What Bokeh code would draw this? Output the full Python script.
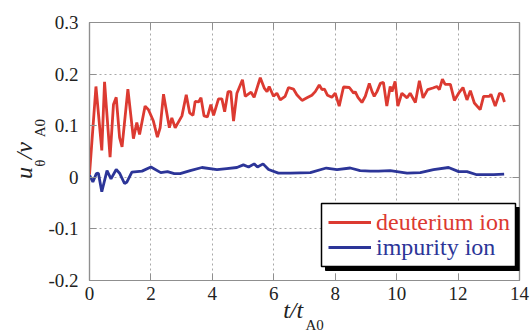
from bokeh.plotting import figure
from bokeh.models import FixedTicker, Legend, LegendItem, BoxAnnotation, LinearAxis
from bokeh.embed import file_html
from bokeh.resources import INLINE

# ---- data ----
deut_t = [0.0, 0.21, 0.40, 0.49, 0.67, 0.78, 0.87, 0.98, 1.06, 1.25, 1.43, 1.54, 1.63, 1.81,
          1.92, 2.08, 2.21, 2.30, 2.41, 2.60, 2.68, 2.79, 3.01, 3.15, 3.26, 3.37, 3.44, 3.55,
          3.63, 3.73, 3.84, 3.95, 4.04, 4.20, 4.31, 4.40, 4.51, 4.60, 4.69, 4.80, 4.98, 5.07,
          5.26, 5.36, 5.56, 5.69, 5.78, 5.85, 5.99, 6.10, 6.21, 6.37, 6.48, 6.64, 6.75, 6.92,
          7.08, 7.24, 7.35, 7.48, 7.57, 7.65, 7.75, 7.89, 8.00, 8.13, 8.27, 8.46, 8.60, 8.65,
          8.74, 8.87, 8.98, 9.11, 9.20, 9.27, 9.36, 9.47, 9.57, 9.68, 9.79, 9.85, 9.95, 10.04,
          10.17, 10.34, 10.44, 10.61, 10.74, 10.86, 11.01, 11.18, 11.31, 11.39, 11.49, 11.58,
          11.75, 11.88, 12.02, 12.16, 12.29, 12.40, 12.53, 12.72, 12.83, 13.02, 13.07, 13.21,
          13.35, 13.43, 13.51]
deut_u = [0.005, 0.176, 0.052, 0.185, 0.039, 0.141, 0.155, 0.077, 0.059, 0.171, 0.075, 0.106,
          0.083, 0.138, 0.131, 0.109, 0.078, 0.096, 0.161, 0.096, 0.115, 0.096, 0.119, 0.160,
          0.125, 0.120, 0.147, 0.146, 0.154, 0.119, 0.117, 0.141, 0.120, 0.152, 0.152, 0.127,
          0.166, 0.166, 0.109, 0.163, 0.189, 0.157, 0.165, 0.155, 0.193, 0.173, 0.166, 0.176,
          0.157, 0.163, 0.150, 0.157, 0.174, 0.171, 0.160, 0.149, 0.154, 0.159, 0.166, 0.179,
          0.170, 0.171, 0.159, 0.155, 0.163, 0.138, 0.175, 0.174, 0.163, 0.166, 0.155, 0.145,
          0.157, 0.182, 0.166, 0.157, 0.166, 0.182, 0.184, 0.138, 0.176, 0.166, 0.186, 0.138,
          0.163, 0.154, 0.163, 0.145, 0.187, 0.154, 0.170, 0.173, 0.176, 0.170, 0.190, 0.180,
          0.180, 0.149, 0.163, 0.174, 0.150, 0.168, 0.144, 0.131, 0.157, 0.157, 0.161, 0.138,
          0.163, 0.161, 0.146]

imp_t = [0.00, 0.11, 0.22, 0.29, 0.40, 0.57, 0.70, 0.87, 0.98, 1.14, 1.22, 1.38, 1.71, 2.00,
         2.32, 2.54, 2.76, 2.95, 3.28, 3.66, 4.15, 4.47, 4.80, 5.01, 5.18, 5.36, 5.47, 5.65,
         5.83, 6.15, 6.54, 7.19, 7.71, 8.06, 8.49, 8.81, 9.14, 9.41, 9.79, 10.34, 10.77, 11.20,
         11.69, 12.02, 12.29, 12.61, 13.16, 13.50]
imp_u = [0.004, -0.009, 0.007, 0.008, -0.028, 0.013, -0.003, 0.015, 0.008, -0.012, -0.009,
         0.010, 0.012, 0.020, 0.009, 0.011, 0.007, 0.007, 0.013, 0.019, 0.015, 0.017, 0.019,
         0.024, 0.020, 0.026, 0.020, 0.026, 0.015, 0.008, 0.008, 0.009, 0.018, 0.015, 0.018,
         0.013, 0.012, 0.012, 0.013, 0.008, 0.009, 0.015, 0.019, 0.011, 0.011, 0.005, 0.005,
         0.006]

x_ticks = [0, 2, 4, 6, 8, 10, 12, 14]
x_tick_labels = ["0", "2", "4", "6", "8", "10", "12", "14"]
y_ticks = [-0.2, -0.1, 0.0, 0.1, 0.2, 0.3]
y_tick_labels = ["-0.2", "-0.1", "0", "0.1", "0.2", "0.3"]
series_names = ["deuterium ion", "impurity ion"]

# axis-title pieces: (text, position along the axis in data units)
y_title_main = [("u", 0.0081), ("/v", 0.0516)]
y_title_sub = [("θ", 0.0272), ("A0", 0.0952)]
x_title_main = [("t/t", 6.63)]
x_title_sub = [("A0", 7.33)]

RED = "#dc3a31"
BLUE = "#2c3598"
GRAY = "#8f8f8f"
INK = "#222222"
FONT = "Liberation Serif"

p = figure(width=531, height=336, x_range=(0, 14), y_range=(-0.2, 0.3),
           output_backend="svg", toolbar_location=None,
           min_border_left=89, min_border_right=12, min_border_top=22, min_border_bottom=56)
p.background_fill_color = "white"
p.border_fill_color = "white"
p.outline_line_color = GRAY
p.outline_line_width = 1.2

for ax, ticks, labels in ((p.xaxis[0], x_ticks, x_tick_labels), (p.yaxis[0], y_ticks, y_tick_labels)):
    ax.ticker = FixedTicker(ticks=ticks)
    ax.major_label_overrides = {t: l for t, l in zip(ticks, labels)}
    ax.axis_line_color = GRAY
    ax.axis_line_width = 1.2
    ax.major_tick_line_color = GRAY
    ax.major_tick_in = 7
    ax.major_tick_out = 0
    ax.minor_tick_line_color = None
    ax.major_label_text_font = FONT
    ax.major_label_text_font_size = "19px"
    ax.major_label_text_color = INK

p.xaxis.major_label_standoff = 6
p.yaxis.major_label_standoff = 11

# inward ticks on the top and right edges (no labels)
for ticks, side in ((x_ticks, "above"), (y_ticks, "right")):
    ax = LinearAxis(ticker=FixedTicker(ticks=ticks))
    ax.axis_line_color = GRAY
    ax.axis_line_width = 1.2
    ax.major_tick_line_color = GRAY
    ax.major_tick_in = 7
    ax.major_tick_out = 0
    ax.minor_tick_line_color = None
    ax.major_label_text_color = None
    ax.major_label_standoff = 0
    p.add_layout(ax, side)

for g in (p.xgrid[0], p.ygrid[0]):
    g.grid_line_color = "#a8a8a8"
    g.grid_line_dash = "2 3"
    g.grid_line_width = 1

r1 = p.line(deut_t, deut_u, line_color=RED, line_width=2.8)
r2 = p.line(imp_t, imp_u, line_color=BLUE, line_width=2.8)


def title_axis(pieces, side, size, style, standoff, orientation="horizontal"):
    ax = LinearAxis(ticker=FixedTicker(ticks=[v for _, v in pieces]),
                    major_label_overrides={v: t for t, v in pieces})
    ax.axis_line_color = None
    ax.major_tick_line_color = None
    ax.minor_tick_line_color = None
    ax.major_tick_in = 0
    ax.major_tick_out = 0
    ax.major_label_standoff = standoff
    ax.major_label_orientation = orientation
    ax.major_label_text_font = FONT
    ax.major_label_text_font_size = size
    ax.major_label_text_font_style = style
    ax.major_label_text_color = INK
    p.add_layout(ax, side)


# y title: u_theta / v_A0
title_axis(y_title_sub, "left", "15px", "normal", -3, "parallel")
title_axis(y_title_main, "left", "24px", "italic", -8, "parallel")
# x title: t / t_A0
title_axis(x_title_main, "below", "24px", "italic", -6)
title_axis(x_title_sub, "below", "15px", "normal", -9)

# legend box with shadow (frame-relative screen units)
shadow = BoxAnnotation(left=236, right=430, top=73, bottom=10,
                       left_units="screen", right_units="screen",
                       top_units="screen", bottom_units="screen",
                       fill_color="black", fill_alpha=1, line_color="black", line_alpha=1)
box = BoxAnnotation(left=232, right=426, top=77, bottom=14,
                    left_units="screen", right_units="screen",
                    top_units="screen", bottom_units="screen",
                    fill_color="white", fill_alpha=1, line_color="black", line_width=1.5,
                    line_alpha=1)
p.add_layout(shadow)
p.add_layout(box)

for name, rend, col, loc in ((series_names[0], r1, RED, (239, 44)),
                             (series_names[1], r2, BLUE, (239, 19))):
    lg = Legend(items=[LegendItem(label=name, renderers=[rend])], location=loc,
                padding=0, margin=0, spacing=0, glyph_width=43, glyph_height=28,
                label_height=28, label_standoff=5, border_line_alpha=0,
                background_fill_alpha=0, label_text_font=FONT,
                label_text_font_size="24px", label_text_color=col)
    p.add_layout(lg)

open("out.html", "w").write(file_html(p, INLINE))
